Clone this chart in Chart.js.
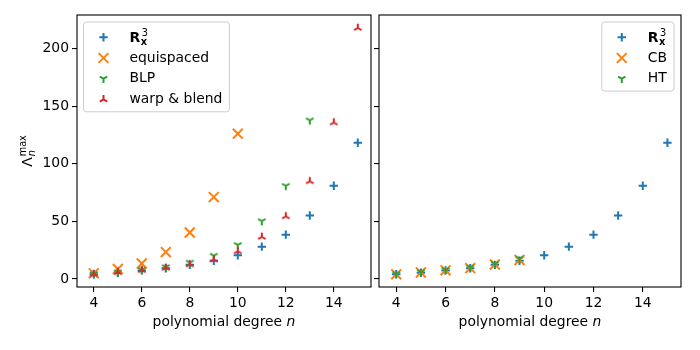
<!DOCTYPE html>
<html>
<head>
<meta charset="utf-8">
<script src="https://cdn.jsdelivr.net/npm/chart.js@4.4.0/dist/chart.umd.min.js"></script>
<style>
  html, body { margin: 0; padding: 0; background: #fff; }
  #wrap { position: relative; width: 700px; height: 350px; overflow: hidden; }
  #leftChart { position: absolute; left: 0; top: 0; }
  #rightChart { position: absolute; left: 370px; top: 0; }
</style>
</head>
<body>
<div id="wrap">
  <canvas id="leftChart" width="380" height="350"></canvas>
  <canvas id="rightChart" width="330" height="350"></canvas>
</div>
<script>
// Datos
const degrees = [4, 5, 6, 7, 8, 9, 10, 11, 12, 13, 14, 15];
const rx3Values = [4.0, 5.4, 7.4, 9.3, 12.2, 15.8, 20.5, 28.0, 38.4, 55.0, 80.8, 118.2];

const equispacedDegrees = [4, 5, 6, 7, 8, 9, 10];
const equispacedValues = [4.9, 8.6, 13.4, 23.3, 40.3, 71.0, 126.0];

const blpDegrees = [4, 5, 6, 7, 8, 9, 10, 11, 12, 13];
const blpValues = [4.3, 5.8, 7.9, 10.2, 14.2, 20.2, 29.5, 50.2, 80.8, 137.6];

const warpBlendDegrees = [4, 5, 6, 7, 8, 9, 10, 11, 12, 13, 14, 15];
const warpBlendValues = [4.1, 5.9, 7.6, 9.7, 12.6, 16.9, 24.0, 36.5, 54.3, 84.7, 135.7, 217.8];

const cbDegrees = [4, 5, 6, 7, 8, 9];
const cbValues = [4.0, 5.6, 7.5, 9.3, 12.5, 16.4];
const htValues = [4.4, 5.9, 7.8, 10.0, 13.2, 17.6];

const xTicks = [4, 6, 8, 10, 12, 14];
const yTicks = [0, 50, 100, 150, 200];

const BLUE = "#1f77b4";
const ORANGE = "#ff7f0e";
const GREEN = "#2ca02c";
const RED = "#d62728";
const FONT = "'DejaVu Sans', sans-serif";
const FONT_SIZE = 13.9;

Chart.defaults.font.family = FONT;
Chart.defaults.font.size = FONT_SIZE;
Chart.defaults.color = "#000";

function toPoints(xs, ys) {
  return xs.map((x, i) => ({ x: x, y: ys[i] }));
}

/**
 * Dibuja un marcador tipo "tri" de matplotlib (Y o su inverso)
 */
function drawTri(ctx, x, y, color, up) {
  const a = 4.3;
  const s = up ? -1 : 1;
  ctx.save();
  ctx.strokeStyle = color;
  ctx.lineWidth = 2;
  ctx.beginPath();
  ctx.moveTo(x, y); ctx.lineTo(x, y + s * a);
  ctx.moveTo(x, y); ctx.lineTo(x - 0.866 * a, y - s * 0.5 * a);
  ctx.moveTo(x, y); ctx.lineTo(x + 0.866 * a, y - s * 0.5 * a);
  ctx.stroke();
  ctx.restore();
}

function makeTriImage(color, up) {
  const c = document.createElement("canvas");
  c.width = 14;
  c.height = 14;
  drawTri(c.getContext("2d"), 7, 7, color, up);
  return c;
}

const triDownGreen = makeTriImage(GREEN, false);
const triUpRed = makeTriImage(RED, true);

function drawLegendMarker(ctx, kind, color, x, y) {
  ctx.save();
  ctx.strokeStyle = color;
  ctx.lineWidth = 2;
  ctx.beginPath();
  if (kind === "plus") {
    ctx.moveTo(x - 4.2, y); ctx.lineTo(x + 4.2, y);
    ctx.moveTo(x, y - 4.2); ctx.lineTo(x, y + 4.2);
    ctx.stroke();
  } else if (kind === "x") {
    ctx.moveTo(x - 4.9, y - 4.9); ctx.lineTo(x + 4.9, y + 4.9);
    ctx.moveTo(x - 4.9, y + 4.9); ctx.lineTo(x + 4.9, y - 4.9);
    ctx.stroke();
  } else if (kind === "triDown") {
    drawTri(ctx, x, y, color, false);
  } else if (kind === "triUp") {
    drawTri(ctx, x, y, color, true);
  }
  ctx.restore();
}

// Etiqueta R_x^3 en negrita con sub y superíndice apilados
function drawRxLabel(ctx, x, y, measureOnly) {
  ctx.font = "bold " + FONT_SIZE + "px " + FONT;
  const wR = ctx.measureText("R").width;
  ctx.font = "bold 9.8px " + FONT;
  const wx = ctx.measureText("x").width;
  ctx.font = "9.8px " + FONT;
  const w3 = ctx.measureText("3").width;
  const total = wR + 0.5 + Math.max(wx, w3);
  if (measureOnly) return total;
  ctx.textBaseline = "alphabetic";
  ctx.font = "bold " + FONT_SIZE + "px " + FONT;
  ctx.fillText("R", x, y + 4.5);
  ctx.font = "9.8px " + FONT;
  ctx.fillText("3", x + wR + 1.5, y - 1.5);
  ctx.font = "bold 9.8px " + FONT;
  ctx.fillText("x", x + wR + 0.5, y + 7.5);
  return total;
}

function labelWidth(ctx, item) {
  if (item.math) return drawRxLabel(ctx, 0, 0, true);
  ctx.font = FONT_SIZE + "px " + FONT;
  return ctx.measureText(item.label).width;
}

function drawLegend(ctx, area, items, align) {
  const rowH = 20.7;
  const textOffset = 46;
  let maxW = 0;
  items.forEach((it) => { maxW = Math.max(maxW, labelWidth(ctx, it)); });
  const boxW = textOffset + maxW + 7;
  const boxH = rowH * items.length + 7;
  const boxX = align === "left" ? area.left + 6.5 : area.right - 7 - boxW;
  const boxY = area.top + 7;

  ctx.save();
  ctx.fillStyle = "rgba(255,255,255,0.8)";
  ctx.strokeStyle = "#cccccc";
  ctx.lineWidth = 1;
  ctx.beginPath();
  ctx.roundRect(boxX, boxY, boxW, boxH, 3);
  ctx.fill();
  ctx.stroke();

  items.forEach((it, i) => {
    const cy = boxY + 15.3 + i * rowH;
    drawLegendMarker(ctx, it.marker, it.color, boxX + 20, cy);
    ctx.fillStyle = "#000";
    if (it.math) {
      drawRxLabel(ctx, boxX + textOffset, cy, false);
    } else {
      ctx.font = FONT_SIZE + "px " + FONT;
      ctx.textBaseline = "middle";
      ctx.textAlign = "left";
      ctx.fillText(it.label, boxX + textOffset, cy);
    }
  });
  ctx.restore();
}

function drawXTitle(ctx, area) {
  const main = "polynomial degree ";
  ctx.font = FONT_SIZE + "px " + FONT;
  const w1 = ctx.measureText(main).width;
  ctx.font = "italic " + FONT_SIZE + "px " + FONT;
  const w2 = ctx.measureText("n").width;
  const x0 = (area.left + area.right) / 2 - (w1 + w2) / 2;
  ctx.textBaseline = "alphabetic";
  ctx.textAlign = "left";
  ctx.fillStyle = "#000";
  ctx.font = FONT_SIZE + "px " + FONT;
  ctx.fillText(main, x0, 326);
  ctx.font = "italic " + FONT_SIZE + "px " + FONT;
  ctx.fillText("n", x0 + w1, 326);
}

function drawYTitle(ctx, area) {
  ctx.save();
  ctx.translate(32, (area.top + area.bottom) / 2);
  ctx.rotate(-Math.PI / 2);
  ctx.fillStyle = "#000";
  ctx.textBaseline = "alphabetic";
  ctx.textAlign = "left";
  ctx.font = FONT_SIZE + "px " + FONT;
  const wL = ctx.measureText("Λ").width;
  ctx.font = "9.7px " + FONT;
  const wMax = ctx.measureText("max").width;
  const total = wL + 1 + wMax;
  const x0 = -total / 2;
  ctx.font = FONT_SIZE + "px " + FONT;
  ctx.fillText("Λ", x0, 0);
  ctx.font = "9.7px " + FONT;
  ctx.fillText("max", x0 + wL + 1, -6);
  ctx.font = "italic 9.7px " + FONT;
  ctx.fillText("n", x0 + wL + 1, 3);
  ctx.restore();
}

const panelDecor = {
  id: "panelDecor",
  afterDraw(chart, args, opts) {
    const ctx = chart.ctx;
    const area = chart.chartArea;
    ctx.save();
    ctx.strokeStyle = "#000";
    ctx.lineWidth = 1.1;
    ctx.strokeRect(area.left, area.top, area.right - area.left, area.bottom - area.top);
    drawXTitle(ctx, area);
    if (opts.yTitle) drawYTitle(ctx, area);
    drawLegend(ctx, area, opts.items, opts.align);
    ctx.restore();
  },
};

function makeScales(showYLabels, yWidth) {
  return {
    x: {
      type: "linear",
      min: 3.3,
      max: 15.55,
      afterBuildTicks: (s) => { s.ticks = xTicks.map((v) => ({ value: v })); },
      afterFit: (s) => { s.height = 63; },
      grid: { drawOnChartArea: false, drawTicks: true, tickLength: 5, tickColor: "#000", lineWidth: 1.1 },
      border: { display: false },
      ticks: { padding: 3, color: "#000", maxRotation: 0 },
    },
    y: {
      type: "linear",
      min: -7,
      max: 229,
      afterBuildTicks: (s) => { s.ticks = yTicks.map((v) => ({ value: v })); },
      afterFit: (s) => { s.width = yWidth; },
      grid: { drawOnChartArea: false, drawTicks: true, tickLength: 5, tickColor: "#000", lineWidth: 1.1 },
      border: { display: false },
      ticks: { display: showYLabels, padding: 3, color: "#000" },
    },
  };
}

const commonPlugins = {
  legend: { display: false },
  tooltip: { enabled: false },
};

new Chart(document.getElementById("leftChart").getContext("2d"), {
  type: "scatter",
  data: {
    datasets: [
      { label: "R_x^3", data: toPoints(degrees, rx3Values), pointStyle: "cross", pointRadius: 4.2, borderColor: BLUE, borderWidth: 2, order: 4 },
      { label: "equispaced", data: toPoints(equispacedDegrees, equispacedValues), pointStyle: "crossRot", pointRadius: 7, borderColor: ORANGE, borderWidth: 2, order: 3 },
      { label: "BLP", data: toPoints(blpDegrees, blpValues), pointStyle: triDownGreen, pointRadius: 5, borderColor: GREEN, order: 2 },
      { label: "warp & blend", data: toPoints(warpBlendDegrees, warpBlendValues), pointStyle: triUpRed, pointRadius: 5, borderColor: RED, order: 1 },
    ],
  },
  options: {
    responsive: false,
    animation: false,
    events: [],
    layout: { padding: { top: 15, right: 1, left: 0, bottom: 0 } },
    scales: makeScales(true, 77),
    plugins: Object.assign({}, commonPlugins, {
      panelDecor: {
        yTitle: true,
        align: "left",
        items: [
          { math: true, marker: "plus", color: BLUE },
          { label: "equispaced", marker: "x", color: ORANGE },
          { label: "BLP", marker: "triDown", color: GREEN },
          { label: "warp & blend", marker: "triUp", color: RED },
        ],
      },
    }),
  },
  plugins: [panelDecor],
});

new Chart(document.getElementById("rightChart").getContext("2d"), {
  type: "scatter",
  data: {
    datasets: [
      { label: "R_x^3", data: toPoints(degrees, rx3Values), pointStyle: "cross", pointRadius: 4.2, borderColor: BLUE, borderWidth: 2, order: 3 },
      { label: "CB", data: toPoints(cbDegrees, cbValues), pointStyle: "crossRot", pointRadius: 7, borderColor: ORANGE, borderWidth: 2, order: 2 },
      { label: "HT", data: toPoints(cbDegrees, htValues), pointStyle: triDownGreen, pointRadius: 5, borderColor: GREEN, order: 1 },
    ],
  },
  options: {
    responsive: false,
    animation: false,
    events: [],
    layout: { padding: { top: 15, right: 19, left: 0, bottom: 0 } },
    scales: makeScales(false, 9),
    plugins: Object.assign({}, commonPlugins, {
      panelDecor: {
        yTitle: false,
        align: "right",
        items: [
          { math: true, marker: "plus", color: BLUE },
          { label: "CB", marker: "x", color: ORANGE },
          { label: "HT", marker: "triDown", color: GREEN },
        ],
      },
    }),
  },
  plugins: [panelDecor],
});
</script>
</body>
</html>
